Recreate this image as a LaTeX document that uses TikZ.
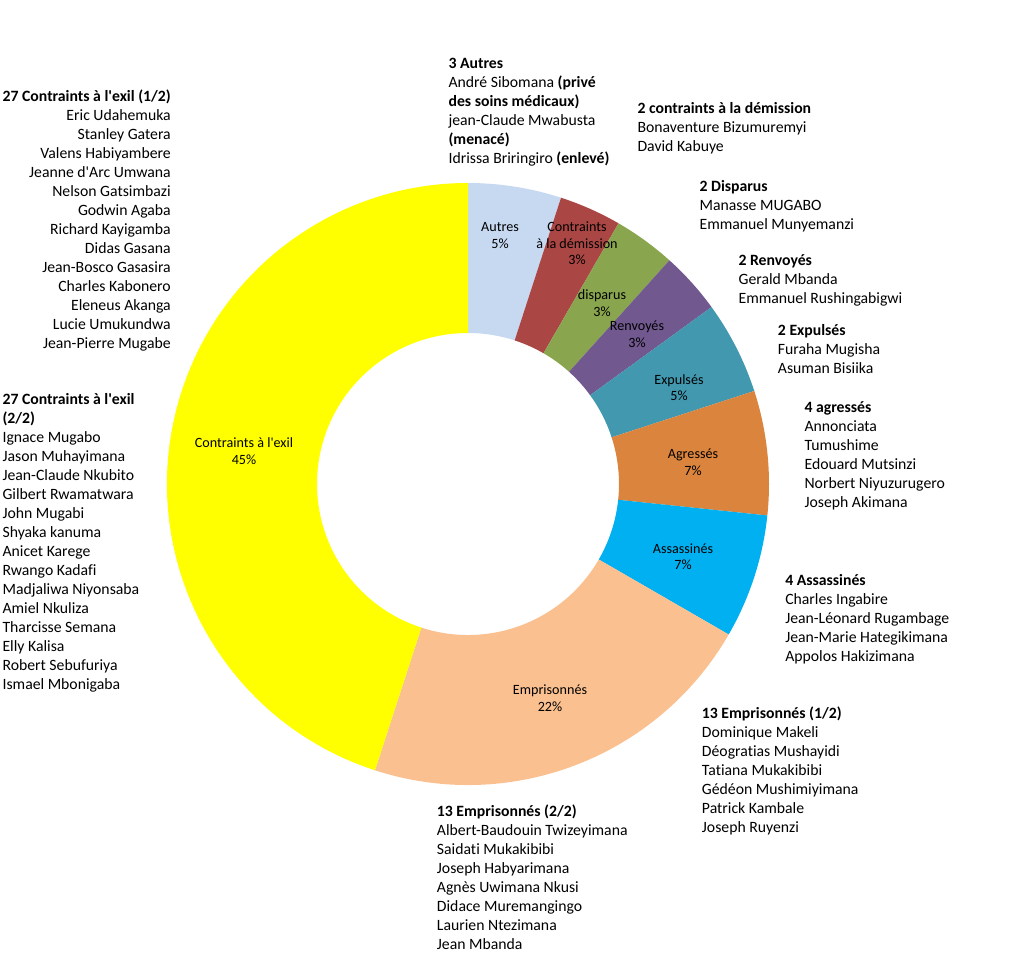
\documentclass[tikz,border=0pt]{standalone}
\usepackage{fontspec}
\setmainfont{Carlito}[Ligatures=NoCommon]
\definecolor{autres}{HTML}{C6D9F1}
\definecolor{demission}{HTML}{AA4643}
\definecolor{disparus}{HTML}{89A54E}
\definecolor{renvoyes}{HTML}{71588F}
\definecolor{expulses}{HTML}{4198AF}
\definecolor{agresses}{HTML}{DB843D}
\definecolor{assassines}{HTML}{00B0F0}
\definecolor{emprisonnes}{HTML}{FAC090}
\definecolor{exil}{HTML}{FFFF00}
\newcommand{\namelist}[2]{\begin{tabular}[t]{@{}#1@{}}#2\end{tabular}}
\newcommand{\ap}{\textquotesingle}
\begin{document}
\begin{tikzpicture}[x=0.75pt, y=0.75pt]
   \tikzstyle{names} = [inner sep=0pt, font=\fontsize{11.8}{14.25}\selectfont]
   \tikzstyle{share} = [inner sep=0pt, align=center, font=\fontsize{10.6}{12.5}\selectfont]
   \useasboundingbox (0,0) rectangle (1022,979);
   \coordinate (ctr) at (468,495);

   \foreach \a/\b/\col in {90/72/autres, 72/60/demission, 60/48/disparus, 48/36/renvoyes,
      36/18/expulses, 18/-6/agresses, -6/-30/assassines, -30/-108/emprisonnes, -108/-270/exil}
      \fill[\col] ([shift={(\a:301)}]ctr) arc[start angle=\a, end angle=\b, radius=301]
         -- ([shift={(\b:151)}]ctr) arc[start angle=\b, end angle=\a, radius=151] -- cycle;

   \node[share] (sautres) at (500,743.3) {Autres\\5\%};
   \node[share] (sdemission) at (577,735.5) {Contraints\\à la démission\\3\%};
   \node[share] (sdisparus) at (602,675.7) {disparus\\3\%};
   \node[share] (srenvoyes) at (637,645) {Renvoyés\\3\%};
   \node[share] (sexpulses) at (679,591.5) {Expulsés\\5\%};
   \node[share] (sagresses) at (693,516.7) {Agressés\\7\%};
   \node[share] (sassassines) at (683,422.3) {Assassinés\\7\%};
   \node[share] (semprisonnes) at (550,280.7) {Emprisonnés\\22\%};
   \node[share] (sexil) at (244,527.7) {Contraints à l\ap exil\\45\%};

   \node[names, anchor=base east] (exilA) at (171,877.3) {\namelist{r}{
      \textbf{27 Contraints à l\ap exil (1/2)}\\ Eric Udahemuka\\ Stanley Gatera\\
      Valens Habiyambere\\ Jeanne d\ap Arc Umwana\\ Nelson Gatsimbazi\\ Godwin Agaba\\
      Richard Kayigamba\\ Didas Gasana\\ Jean-Bosco Gasasira\\ Charles Kabonero\\
      Eleneus Akanga\\ Lucie Umukundwa\\ Jean-Pierre Mugabe}};
   \node[names, anchor=base west] (exilB) at (2.3,574.7) {\namelist{l}{
      \textbf{27 Contraints à l\ap exil}\\ \textbf{(2/2)}\\ Ignace Mugabo\\ Jason Muhayimana\\
      Jean-Claude Nkubito\\ Gilbert Rwamatwara\\ John Mugabi\\ Shyaka kanuma\\
      Anicet Karege\\ Rwango Kadafi\\ Madjaliwa Niyonsaba\\ Amiel Nkuliza\\
      Tharcisse Semana\\ Elly Kalisa\\ Robert Sebufuriya\\ Ismael Mbonigaba}};
   \node[names, anchor=base west] (autres) at (448.3,910) {\namelist{l}{
      \textbf{3 Autres}\\ André Sibomana \textbf{(privé}\\ \textbf{des soins médicaux)}\\
      jean-Claude Mwabusta\\ \textbf{(menacé)}\\ Idrissa Briringiro \textbf{(enlevé)}}};
   \node[names, anchor=base west] (demission) at (637.3,865.7) {\namelist{l}{
      \textbf{2 contraints à la démission}\\ Bonaventure Bizumuremyi\\ David Kabuye}};
   \node[names, anchor=base west] (disparus) at (699.3,787) {\namelist{l}{
      \textbf{2 Disparus}\\ Manasse MUGABO\\ Emmanuel Munyemanzi}};
   \node[names, anchor=base west] (renvoyes) at (738.3,713.3) {\namelist{l}{
      \textbf{2 Renvoyés}\\ Gerald Mbanda\\ Emmanuel Rushingabigwi}};
   \node[names, anchor=base west] (expulses) at (777.7,643.3) {\namelist{l}{
      \textbf{2 Expulsés}\\ Furaha Mugisha\\ Asuman Bisiika}};
   \node[names, anchor=base west] (agresses) at (804.3,566.7) {\namelist{l}{
      \textbf{4 agressés}\\ Annonciata\\ Tumushime\\ Edouard Mutsinzi\\
      Norbert Niyuzurugero\\ Joseph Akimana}};
   \node[names, anchor=base west] (assassines) at (785,393.3) {\namelist{l}{
      \textbf{4 Assassinés}\\ Charles Ingabire\\ Jean-Léonard Rugambage\\
      Jean-Marie Hategikimana\\ Appolos Hakizimana}};
   \node[names, anchor=base west] (empA) at (701.7,260) {\namelist{l}{
      \textbf{13 Emprisonnés (1/2)}\\ Dominique Makeli\\ Déogratias Mushayidi\\
      Tatiana Mukakibibi\\ Gédéon Mushimiyimana\\ Patrick Kambale\\ Joseph Ruyenzi}};
   \node[names, anchor=base west] (empB) at (436.7,162.3) {\namelist{l}{
      \textbf{13 Emprisonnés (2/2)}\\ Albert-Baudouin Twizeyimana\\ Saidati Mukakibibi\\
      Joseph Habyarimana\\ Agnès Uwimana Nkusi\\ Didace Muremangingo\\
      Laurien Ntezimana\\ Jean Mbanda}};
 \end{tikzpicture}
\end{document}
